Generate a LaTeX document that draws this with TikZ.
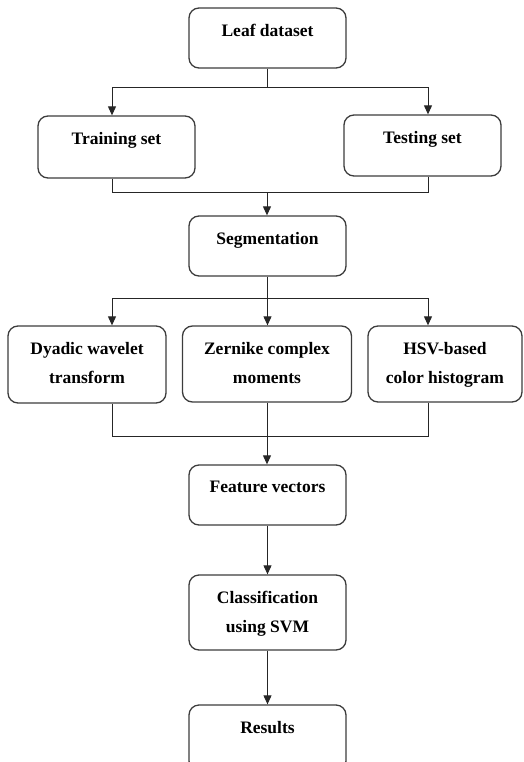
\documentclass[tikz,border=0pt]{standalone}
\usepackage{fontspec}
\setmainfont{Liberation Serif}
\usepackage{tikz}
\usetikzlibrary{arrows.meta,calc}
\definecolor{boxgrey}{RGB}{60,60,60}

\begin{document}
\begin{tikzpicture}[x=1pt,y=-1pt,
  box/.style={draw=boxgrey,line width=1.3pt,rounded corners=10pt,inner sep=0pt},
  txt/.style={anchor=north,inner sep=0pt,yshift=-16.5pt,align=center,
    font=\fontsize{17.5}{29}\selectfont\bfseries},
  conn/.style={line width=1pt,black!85},
  arr/.style={conn,-{Triangle[length=9pt,width=8pt]}}]
\useasboundingbox (0,0) rectangle (523,762);
% ---------- boxes ----------
\node[box,minimum width=157,minimum height=60,label={[txt]north:Leaf dataset}] (leaf) at (267.5,38) {};
\node[box,minimum width=157,minimum height=62,label={[txt]north:Training set}] (train) at (116.5,147) {};
\node[box,minimum width=157,minimum height=61,label={[txt]north:Testing set}] (test) at (422.5,145.5) {};
\node[box,minimum width=157,minimum height=60,label={[txt]north:Segmentation}] (seg) at (267.5,246) {};
\node[box,minimum width=158,minimum height=77,label={[txt]north:{Dyadic wavelet\\transform}}] (dyadic) at (87,364.5) {};
\node[box,minimum width=169,minimum height=76,label={[txt]north:{Zernike complex\\moments}}] (zernike) at (267,364) {};
\node[box,minimum width=154,minimum height=76,label={[txt]north:{HSV-based\\color histogram}}] (hsv) at (445,364) {};
\node[box,minimum width=157,minimum height=60,label={[txt]north:Feature vectors}] (feat) at (267.5,495) {};
\node[box,minimum width=157,minimum height=75,label={[txt]north:{Classification\\using SVM}}] (class) at (267.5,612.5) {};
\node[box,minimum width=157,minimum height=66,label={[txt]north:Results}] (results) at (267.5,738) {};
% ---------- columns and junctions ----------
\coordinate (colL) at (112,0);
\coordinate (colR) at (428,0);
\coordinate (split1) at (267.5,88);
\coordinate (merge1) at (267,192);
\coordinate (split2) at (267.5,298);
\coordinate (merge2) at (267,436);
% ---------- connectors ----------
\draw[conn] (leaf.south) -- (split1);
\draw[arr] (split1) -| (train.north -| colL);
\draw[arr] (split1) -| (test.north -| colR);
\draw[conn] (train.south -| colL) |- (merge1);
\draw[conn] (test.south -| colR) |- (merge1);
\draw[arr] (merge1) -- (seg.north -| merge1);
\draw[conn] (seg.south) -- (split2);
\draw[arr] (split2) -| (dyadic.north -| colL);
\draw[arr] (split2) -- (zernike.north -| split2);
\draw[arr] (split2) -| (hsv.north -| colR);
\draw[conn] (dyadic.south -| colL) |- (merge2);
\draw[conn] (hsv.south -| colR) |- (merge2);
\draw[conn] (zernike.south) -- (merge2);
\draw[arr] (merge2) -- (feat.north -| merge2);
\draw[arr] (feat.south) -- (class.north);
\draw[arr] (class.south) -- (results.north);
\end{tikzpicture}
\end{document}
